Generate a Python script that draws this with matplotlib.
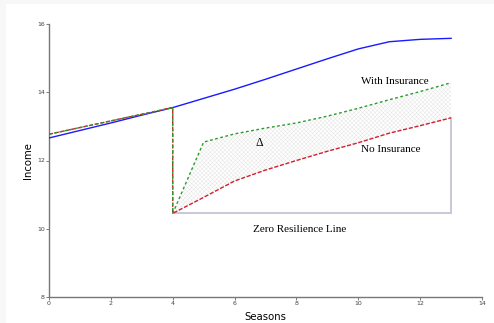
import matplotlib.pyplot as plt
import matplotlib.patches as mpatches
import numpy as np

plt.rcParams['hatch.linewidth'] = 0.3

# Dati
stagioni = [0, 1, 2, 3, 4, 5, 6, 7, 8, 9, 10, 11, 12, 13]
reddito_base = [12.66, 12.88, 13.1, 13.33, 13.55, 13.82, 14.09, 14.38, 14.68, 14.98, 15.27, 15.48, 15.55, 15.58]

pre_shock_x = [0, 4]
pre_shock_y = [12.77, 13.55]
shock_y = 10.45

post_x = [4, 5, 6, 7, 8, 9, 10, 11, 12, 13]
no_insurance = [10.45, 10.92, 11.4, 11.72, 12.0, 12.27, 12.52, 12.8, 13.02, 13.25]
with_insurance = [10.45, 12.54, 12.78, 12.95, 13.1, 13.3, 13.53, 13.78, 14.02, 14.28]

fig = plt.figure(figsize=(4.94, 3.23), dpi=100, facecolor='#f7f7f7')
sfondo = mpatches.Rectangle((6 / 494, 0), 1, 1 - 4 / 323, transform=fig.transFigure,
                            facecolor='white', edgecolor='none', zorder=-10)
fig.patches.append(sfondo)
ax = fig.add_axes([49 / 494, 1 - 297 / 323, 433 / 494, 273 / 323])
ax.set_facecolor('none')

# Area tra le due curve (tratteggio leggero)
ax.fill_between(post_x, no_insurance, with_insurance, facecolor='white', edgecolor='#e2e2e2',
                hatch='xxxxxxxx', linewidth=0)

# Linea di resilienza zero (bordo del rettangolo)
ax.plot([4, 13], [shock_y, shock_y], color='#c9c9d6', linewidth=1.4, zorder=2)
ax.plot([13, 13], [shock_y, no_insurance[-1]], color='#c9c9d6', linewidth=1.4, zorder=2)

# Linea base
ax.plot(stagioni, reddito_base, color='#1a1aff', linewidth=1.0, zorder=3)

# Senza assicurazione (rosso tratteggiato)
rx = pre_shock_x + [4] + post_x
ry = pre_shock_y + [shock_y] + no_insurance
ax.plot(rx, ry, color='#d0202e', linewidth=1.0, linestyle=(0, (3, 1.2)), zorder=4)

# Con assicurazione (verde puntinato)
gx = pre_shock_x + [4] + post_x
gy = pre_shock_y + [shock_y] + with_insurance
ax.plot(gx, gy, color='#2e9a2e', linewidth=1.0, linestyle=(0, (2, 1.8)), zorder=5)

# Testi
ax.text(10.1, 14.31, 'With Insurance', family='Liberation Serif', fontsize=8, va='center')
ax.text(10.1, 12.31, 'No Insurance', family='Liberation Serif', fontsize=8, va='center')
ax.text(6.58, 9.99, 'Zero Resilience Line', family='Liberation Serif', fontsize=8, va='center')
ax.text(6.68, 12.52, 'Δ', family='Liberation Serif', fontsize=8.5, va='center')

ax.set_xlim(0, 14)
ax.set_ylim(8, 16)
ax.set_xticks(np.arange(0, 15, 2))
ax.set_yticks(np.arange(8, 17, 2))
ax.tick_params(labelsize=4.5, length=2, width=0.6, color='#666666', labelcolor='#444444', pad=1)
for s in ['top', 'right']:
    ax.spines[s].set_visible(False)
for s in ['left', 'bottom']:
    ax.spines[s].set_color('#777777')
    ax.spines[s].set_linewidth(1.0)

ax.set_xlabel('Seasons', fontsize=7.3, labelpad=4.5)
ax.set_ylabel('Income', fontsize=7.3, labelpad=2.5)

fig.savefig('out.png', dpi=100, facecolor=fig.get_facecolor())
